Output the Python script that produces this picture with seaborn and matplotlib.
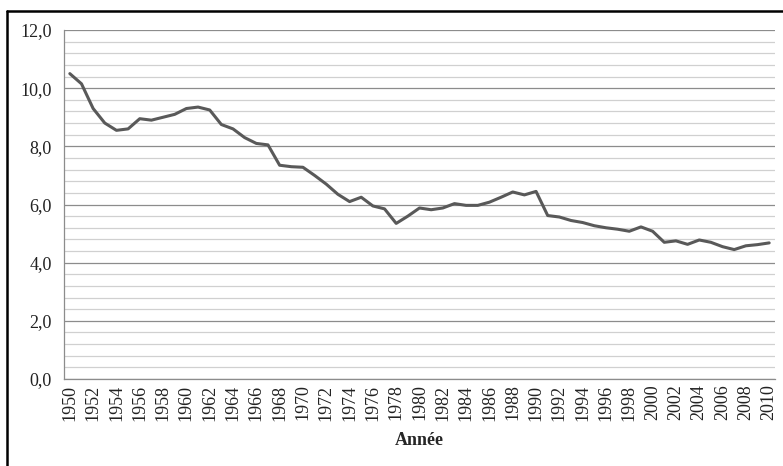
import numpy as np
import pandas as pd
import matplotlib
matplotlib.use('Agg')
import matplotlib.pyplot as plt
from matplotlib.lines import Line2D
from matplotlib.ticker import MultipleLocator, FixedLocator, FuncFormatter
import seaborn as sns

years = list(range(1950, 2011))
values = [10.5, 10.15, 9.3, 8.8, 8.55, 8.6, 8.95, 8.9, 9.0, 9.1,
          9.3, 9.35, 9.25, 8.75, 8.6, 8.3, 8.1, 8.05, 7.35, 7.3,
          7.28, 7.0, 6.7, 6.35, 6.1, 6.25, 5.95, 5.85, 5.35, 5.6,
          5.88, 5.82, 5.88, 6.03, 5.97, 5.97, 6.08, 6.25, 6.43, 6.33,
          6.45, 5.62, 5.57, 5.45, 5.38, 5.27, 5.2, 5.15, 5.08, 5.23,
          5.08, 4.7, 4.75, 4.63, 4.78, 4.7, 4.55, 4.45, 4.58, 4.62,
          4.68]

df = pd.DataFrame({'Année': years, 'valeur': values})

sns.set_style('white')
plt.rcParams['font.family'] = ['Liberation Serif', 'DejaVu Serif']

fig = plt.figure(figsize=(7.83, 4.66), dpi=100)
ax = fig.add_axes([64/783, 1-379/466, 711/783, 349/466])

sns.lineplot(data=df, x='Année', y='valeur', ax=ax, color='#595959', linewidth=2.2)

ax.set_xlim(1949.5, 2010.5)
ax.set_ylim(0, 12)

# gridlines
ax.yaxis.set_major_locator(MultipleLocator(2))
ax.yaxis.set_minor_locator(MultipleLocator(0.4))
ax.grid(which='major', axis='y', color='#8c8c8c', linewidth=0.9)
ax.grid(which='minor', axis='y', color='#d0d0d0', linewidth=0.9)
ax.grid(which='both', axis='x', visible=False)
ax.set_axisbelow(True)
ax.yaxis.set_major_formatter(FuncFormatter(lambda v, p: f'{v:.1f}'.replace('.', ',')))

# x: labels every 2 years, tick marks between categories
ax.xaxis.set_major_locator(FixedLocator(years[::2]))
ax.xaxis.set_minor_locator(FixedLocator([y - 0.5 for y in years] + [2010.5]))
ax.tick_params(axis='x', which='major', length=0, labelsize=13, rotation=90, pad=4, labelcolor='#222222')
ax.tick_params(axis='x', which='minor', length=5, color='#8c8c8c', width=0.9, direction='out')
ax.tick_params(axis='y', which='major', length=5, color='#8c8c8c', width=0.9, labelsize=13, pad=4, labelcolor='#222222')
ax.tick_params(axis='y', which='minor', length=0)

for s in ['top', 'right']:
    ax.spines[s].set_visible(False)
for s in ['left', 'bottom']:
    ax.spines[s].set_color('#8c8c8c')
    ax.spines[s].set_linewidth(0.9)

ax.set_ylabel('')
ax.set_xlabel('Année', fontsize=13, fontweight='bold', labelpad=8)

# outer frame (left and top edges visible)
fig.add_artist(Line2D([7/783, 7/783], [0, 1-11/466], transform=fig.transFigure, color='black', linewidth=1.8))
fig.add_artist(Line2D([7/783, 1], [1-11/466, 1-11/466], transform=fig.transFigure, color='black', linewidth=1.8))

fig.savefig('out.png', dpi=100)
